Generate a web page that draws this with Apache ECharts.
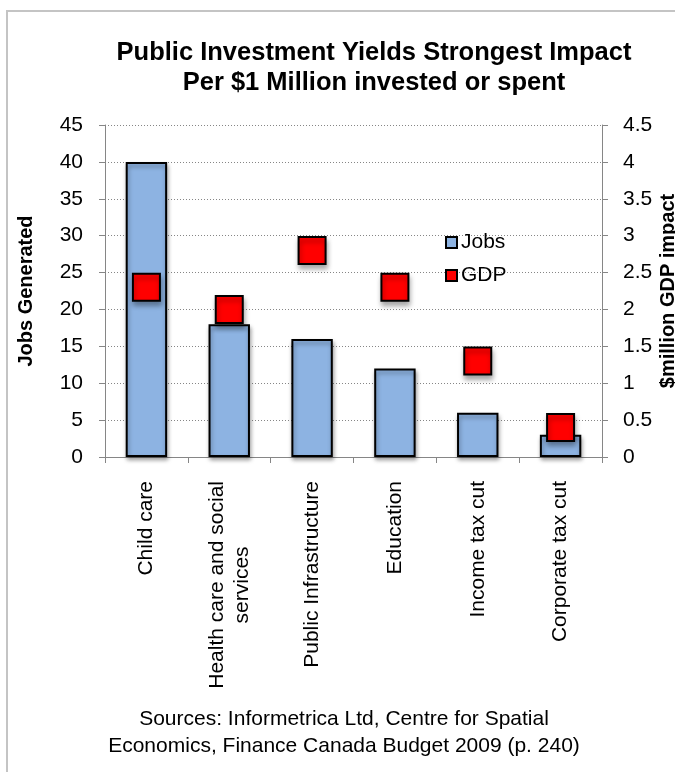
<!DOCTYPE html>
<html>
<head>
<meta charset="utf-8">
<script src="https://cdn.jsdelivr.net/npm/echarts@6/dist/echarts.min.js"></script>
<style>
  html, body { margin: 0; padding: 0; background: #ffffff; overflow: hidden; }
  #chart { display: block; width: 675px; height: 772px; }
</style>
</head>
<body>
<div id="chart"></div>
<script>
// Jobs and GDP impact per $1 million invested or spent
const categories = [
  'Child care',
  'Health care and social\nservices',
  'Public Infrastructure',
  'Education',
  'Income tax cut',
  'Corporate tax cut'
];
const jobs = [40, 18, 16, 12, 6, 3];
const gdp = [2.3, 2.0, 2.8, 2.3, 1.3, 0.4];

const jobsAxis = { min: 0, max: 45, interval: 5 };
const gdpAxis = { min: 0, max: 4.5, interval: 0.5 };

const titleLines = ['Public Investment Yields Strongest Impact', 'Per $1 Million invested or spent'];
const sourceLines = ['Sources: Informetrica Ltd, Centre for Spatial', 'Economics, Finance Canada Budget 2009 (p. 240)'];

const FONT = '"Liberation Sans", Arial, Helvetica, sans-serif';
const AXIS_GREY = '#868686';
const BAR_BLUE = '#8db3e2';
const MARK_RED = '#ff0000';
const BODY_SIZE = 21;

const chart = echarts.init(document.getElementById('chart'), null, { renderer: 'canvas' });

chart.setOption({
  backgroundColor: '#ffffff',
  animation: false,
  textStyle: { fontFamily: FONT },
  title: [
    {
      text: titleLines.join('\n'),
      left: 374,
      top: 38,
      padding: 0,
      textAlign: 'center',
      textStyle: { fontFamily: FONT, fontSize: 25.5, fontWeight: 'bold', color: '#000', lineHeight: 30 }
    },
    {
      text: sourceLines.join('\n'),
      left: 344,
      top: 706,
      padding: 0,
      textAlign: 'center',
      textStyle: { fontFamily: FONT, fontSize: BODY_SIZE, fontWeight: 'normal', color: '#000', lineHeight: 27 }
    }
  ],
  graphic: [
    {
      // chart-area frame: only the left and top edges fall inside the page
      type: 'polyline',
      silent: true,
      shape: { points: [[7, 800], [7, 11], [720, 11]] },
      style: { fill: 'none', stroke: '#c4c4c4', lineWidth: 2 }
    }
  ],
  legend: {
    orient: 'vertical',
    left: 445,
    top: 232,
    padding: 0,
    itemWidth: 11,
    itemHeight: 11,
    itemGap: 12,
    icon: 'rect',
    textStyle: { fontFamily: FONT, fontSize: BODY_SIZE, color: '#000', lineHeight: 21, padding: [0, 0, 0, -1] },
    data: [
      { name: 'Jobs', itemStyle: { color: BAR_BLUE, borderColor: '#000', borderWidth: 2 } },
      { name: 'GDP', itemStyle: { color: MARK_RED, borderColor: '#000', borderWidth: 2 } }
    ]
  },
  grid: { left: 105, right: 73, top: 125, bottom: 315, containLabel: false, outerBoundsMode: 'none' },
  xAxis: {
    type: 'category',
    data: categories,
    boundaryGap: true,
    axisLine: { lineStyle: { color: AXIS_GREY, width: 1 } },
    axisTick: { show: true, alignWithLabel: false, length: 6, lineStyle: { color: AXIS_GREY } },
    axisLabel: {
      interval: 0,
      rotate: 90,
      margin: 24,
      color: '#000',
      fontFamily: FONT,
      fontSize: BODY_SIZE,
      lineHeight: 25,
      formatter: function (value) {
        return value.split('\n').map(function (s) { return '{c|' + s + '}'; }).join('\n');
      },
      rich: {
        c: { align: 'center', fontFamily: FONT, fontSize: BODY_SIZE, lineHeight: 25, color: '#000' }
      }
    }
  },
  yAxis: [
    {
      type: 'value',
      min: jobsAxis.min,
      max: jobsAxis.max,
      interval: jobsAxis.interval,
      name: 'Jobs Generated',
      nameLocation: 'middle',
      nameGap: 69,
      nameRotate: 90,
      nameTextStyle: { fontFamily: FONT, fontSize: 20, fontWeight: 'bold', color: '#000' },
      axisLine: { show: true, lineStyle: { color: AXIS_GREY, width: 1 } },
      axisTick: { show: true, length: 6, lineStyle: { color: AXIS_GREY } },
      axisLabel: { margin: 22, color: '#000', fontFamily: FONT, fontSize: BODY_SIZE },
      splitLine: { show: true, lineStyle: { color: AXIS_GREY, type: [1, 2], width: 1 } }
    },
    {
      type: 'value',
      position: 'right',
      min: gdpAxis.min,
      max: gdpAxis.max,
      interval: gdpAxis.interval,
      name: '$million GDP impact',
      nameLocation: 'middle',
      nameGap: 56,
      nameMoveOverlap: false,
      nameRotate: 90,
      nameTextStyle: { fontFamily: FONT, fontSize: 20, fontWeight: 'bold', color: '#000' },
      axisLine: { show: true, lineStyle: { color: AXIS_GREY, width: 1 } },
      axisTick: { show: true, length: 6, lineStyle: { color: AXIS_GREY } },
      axisLabel: { margin: 21, color: '#000', fontFamily: FONT, fontSize: BODY_SIZE },
      splitLine: { show: false }
    }
  ],
  series: [
    {
      name: 'Jobs',
      type: 'bar',
      yAxisIndex: 0,
      data: jobs,
      barWidth: '50%',
      itemStyle: {
        color: BAR_BLUE,
        borderColor: '#000',
        borderWidth: 2,
        shadowColor: 'rgba(0,0,0,0.35)',
        shadowBlur: 4,
        shadowOffsetX: 1,
        shadowOffsetY: 3
      },
      z: 2
    },
    {
      name: 'GDP',
      type: 'scatter',
      yAxisIndex: 1,
      data: gdp,
      symbol: 'rect',
      symbolSize: 27,
      itemStyle: {
        color: MARK_RED,
        borderColor: '#000',
        borderWidth: 2,
        opacity: 1,
        shadowColor: 'rgba(0,0,0,0.35)',
        shadowBlur: 5,
        shadowOffsetX: 1,
        shadowOffsetY: 4
      },
      z: 3
    }
  ]
});
</script>
</body>
</html>
